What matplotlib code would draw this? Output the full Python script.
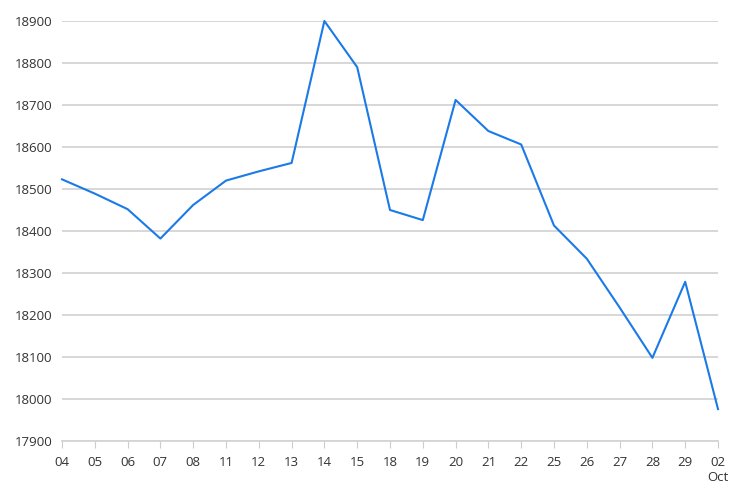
import matplotlib
matplotlib.use("Agg")
import matplotlib.pyplot as plt

# Data
days = ["04", "05", "06", "07", "08", "11", "12", "13", "14", "15", "18",
        "19", "20", "21", "22", "25", "26", "27", "28", "29", "02\nOct"]
values = [18523, 18489, 18452, 18382, 18462, 18520, 18542, 18562, 18900, 18790, 18450,
          18426, 18712, 18638, 18606, 18413, 18334, 18218, 18098, 18279, 17976]
y_ticks = list(range(17900, 19000, 100))

plt.rcParams['font.family'] = ['Open Sans', 'DejaVu Sans']

fig = plt.figure(figsize=(7.49, 5.04), dpi=100)
ax = fig.add_axes([62 / 749, 1 - 441 / 504, (718 - 62) / 749, (441 - 21) / 504])

x = list(range(len(days)))
ax.plot(x, values, color='#1a7ae8', linewidth=1.5, clip_on=False, zorder=3)

ax.set_xlim(0, len(days) - 1)
ax.set_ylim(17900, 18900)
ax.set_yticks(y_ticks)
ax.set_xticks(x)
ax.set_xticklabels(days)

ax.grid(axis='y', color='#d4d4d4', linewidth=1.3)
for s in ['top', 'right', 'left']:
    ax.spines[s].set_visible(False)
ax.spines['bottom'].set_color('#d4d4d4')
ax.spines['bottom'].set_linewidth(1.3)

ax.tick_params(axis='y', length=0, pad=7, labelsize=9.5, labelcolor='#333333')
ax.tick_params(axis='x', length=5, color='#cccccc', pad=6, labelsize=9.5, labelcolor='#333333')

fig.savefig("out.png", dpi=100)
